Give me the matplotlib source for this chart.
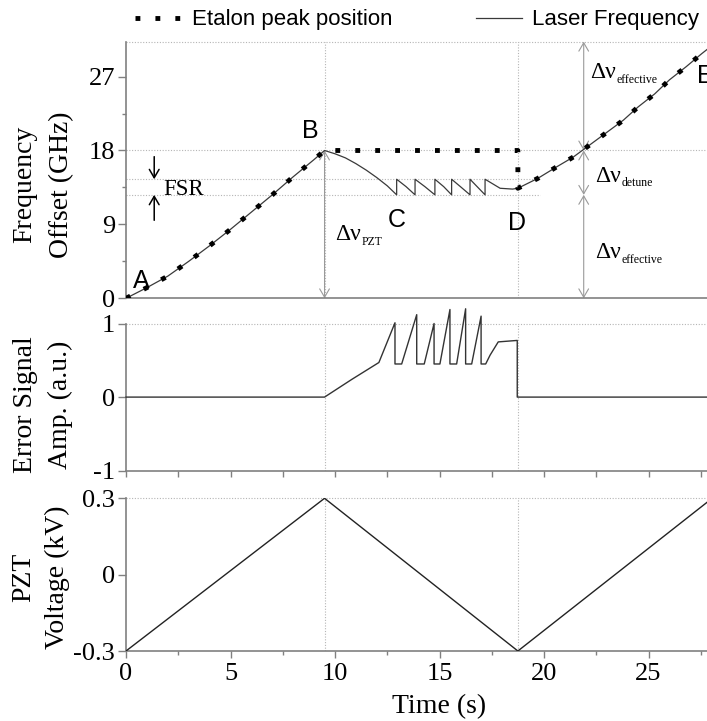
import matplotlib
matplotlib.use('Agg')
import matplotlib.pyplot as plt
import numpy as np

plt.rcParams['font.family'] = ['Liberation Serif', 'DejaVu Serif']
plt.rcParams['axes.unicode_minus'] = False

W, H, DPI = 707, 721, 100

# ---------------- data ----------------
# laser / etalon rising section A -> B
rise1_t = [0, 1, 2, 3, 4, 5, 6, 7, 8, 9, 9.5]
rise1_f = [0, 1.3, 2.7, 4.5, 6.4, 8.4, 10.5, 12.6, 14.8, 16.9, 18.0]
# laser frequency between B and D (descent, sawtooth, plateau)
mid_t = [9.5, 10.0, 10.5, 11.0, 11.5, 12.0, 12.5, 12.95,
         12.95, 13.4, 13.83, 13.83, 14.3, 14.78, 14.78, 15.2, 15.58,
         15.58, 16.0, 16.46, 16.46, 16.8, 17.18, 17.18, 17.9, 18.5, 18.75]
mid_f = [18.0, 17.6, 17.1, 16.4, 15.6, 14.7, 13.7, 12.6,
         14.5, 13.6, 12.6, 14.5, 13.6, 12.6, 14.5, 13.6, 12.6,
         14.5, 13.6, 12.6, 14.5, 13.6, 12.6, 14.5, 13.4, 13.3, 13.4]
# rising section after D -> E
rise2_t = [18.75, 19.7, 20.6, 21.4, 22.2, 23.0, 23.8, 24.5, 25.3, 26.0, 26.8, 27.55, 28.2]
rise2_f = [13.4, 14.6, 16.0, 17.2, 18.7, 20.2, 21.7, 23.3, 24.9, 26.6, 28.2, 29.8, 31.1]
# etalon plateau level
etalon_level = 18.0
fsr_levels = [14.5, 12.6]

# error signal
err_t = [0, 9.5, 10.8, 12.1, 12.87, 12.87, 13.19, 13.91, 13.91, 14.27, 14.74, 14.74,
         15.02, 15.5, 15.5, 15.82, 16.25, 16.25, 16.54, 16.99, 16.99, 17.21, 17.42,
         17.81, 18.72, 18.72, 28.2]
err_v = [0, 0, 0.24, 0.47, 1.01, 0.45, 0.45, 1.12, 0.45, 0.45, 1.0, 0.45,
         0.45, 1.19, 0.45, 0.45, 1.2, 0.45, 0.45, 1.1, 0.45, 0.45, 0.57,
         0.75, 0.77, 0, 0]

# PZT voltage
pzt_t = [0, 9.5, 18.75, 28.2]
pzt_v = [-0.3, 0.3, -0.3, 0.31]

t_peak, t_valley = 9.5, 18.75
t_arrow = 21.9

# ---------------- figure ----------------
fig = plt.figure(figsize=(W / DPI, H / DPI), dpi=DPI)

def px_axes(top, bottom):
    left = 126 / W
    width = 30 * 20.9 / W
    return [left, 1 - bottom / H, width, (bottom - top) / H]

ax1 = fig.add_axes(px_axes(41.7, 298.3))
ax2 = fig.add_axes(px_axes(323.5, 470.7))
ax3 = fig.add_axes(px_axes(498.3, 651.0))

SPINE = '#808080'
GRID = dict(color='#b5b5b5', lw=0.8, ls=(0, (1, 1.5)), zorder=0.5)

for ax in (ax1, ax2, ax3):
    ax.set_xlim(0, 30)
    for s in ('top', 'right'):
        ax.spines[s].set_visible(False)
    for s in ('left', 'bottom'):
        ax.spines[s].set_color(SPINE)
        ax.spines[s].set_linewidth(1.2)
    ax.tick_params(which='both', color=SPINE, labelsize=19, width=1.0)
    ax.tick_params(axis='y', which='major', length=6, pad=2)
    ax.tick_params(axis='y', which='minor', length=3)
    ax.axvline(t_peak, **GRID)
    ax.axvline(t_valley, **GRID)

# ---- top panel ----
ytop = 31.25
ax1.set_ylim(0, ytop)
ax1.set_yticks([0, 9, 18, 27])
ax1.set_yticks([4.5, 13.5, 22.5], minor=True)
ax1.tick_params(axis='x', which='both', bottom=False, labelbottom=False)
ax1.axhline(ytop, clip_on=False, **GRID)
ax1.axhline(etalon_level, **GRID)
ax1.hlines(fsr_levels, 0, 19.8, **GRID)

laser_t = rise1_t + mid_t[1:] + rise2_t[1:]
laser_f = rise1_f + mid_f[1:] + rise2_f[1:]
et_t = rise1_t + [t_valley] + rise2_t
et_f = rise1_f + [etalon_level] + rise2_f

laser_line, = ax1.plot(laser_t, laser_f, color='#3a3a3a', lw=0.9, zorder=3,
                       label='Laser Frequency')
et_line, = ax1.plot(et_t, et_f, color='black', lw=3.5, ls=(0, (1, 3.1)),
                    dash_capstyle='butt', zorder=4, label='Etalon peak position')

ARR_G = dict(arrowstyle='<->,head_length=0.6,head_width=0.35', color='#9a9a9a',
             lw=0.8, shrinkA=0, shrinkB=0, mutation_scale=10)
ax1.annotate('', xy=(t_peak, 0), xytext=(t_peak, etalon_level), arrowprops=ARR_G, zorder=2)
ax1.annotate('', xy=(t_arrow, ytop), xytext=(t_arrow, etalon_level), arrowprops=ARR_G,
             zorder=2, annotation_clip=False)
ax1.annotate('', xy=(t_arrow, etalon_level), xytext=(t_arrow, fsr_levels[1]), arrowprops=ARR_G, zorder=2)
ax1.annotate('', xy=(t_arrow, fsr_levels[1]), xytext=(t_arrow, 0), arrowprops=ARR_G, zorder=2)

ARR_K = dict(arrowstyle='->,head_length=0.6,head_width=0.35', color='black',
             lw=1.1, shrinkA=0, shrinkB=0, mutation_scale=10)
ax1.annotate('', xy=(1.35, fsr_levels[0]), xytext=(1.35, 17.25), arrowprops=ARR_K)
ax1.annotate('', xy=(1.35, fsr_levels[1]), xytext=(1.35, 9.5), arrowprops=ARR_K)
ax1.text(1.77, fsr_levels[1], 'FSR', fontsize=16.5, va='baseline', ha='left')

def dnu(ax, x, y, sub):
    t = ax.text(x, y, 'Δν', fontsize=17, ha='left', va='baseline')
    ax.annotate(sub, xy=(1, 0), xycoords=t, xytext=(0.5, 0.3),
                textcoords='offset points', fontsize=8.5, ha='left', va='baseline')

dnu(ax1, 10.0, 7.1, 'PZT')
dnu(ax1, 22.2, 26.8, 'effective')
dnu(ax1, 22.44, 14.2, 'detune')
dnu(ax1, 22.44, 4.87, 'effective')

SANS = dict(family='Liberation Sans', fontsize=18, va='baseline', ha='left')
ax1.text(0.33, 1.2, 'A', **SANS)
ax1.text(8.4, 19.5, 'B', **SANS)
ax1.text(12.53, 8.7, 'C', **SANS)
ax1.text(18.3, 8.3, 'D', **SANS)
ax1.text(27.3, 26.2, 'E', **SANS)

# ---- middle panel ----
ax2.set_ylim(-1, 1)
ax2.set_yticks([-1, 0, 1])
ax2.set_yticklabels(['-1', '0', '1'])
ax2.set_xticks(np.arange(0, 28, 2.5))
ax2.tick_params(axis='x', which='major', length=4, labelbottom=False)
ax2.axhline(1, clip_on=False, **GRID)
ax2.plot(err_t, err_v, color='#333333', lw=1.0, clip_on=False, zorder=3)

# ---- bottom panel ----
ax3.set_ylim(-0.3, 0.3)
ax3.set_yticks([-0.3, 0, 0.3])
ax3.set_yticklabels(['-0.3', '0', '0.3'])
ax3.set_xticks(np.arange(0, 26, 5))
ax3.set_xticks(np.arange(2.5, 28, 5), minor=True)
ax3.tick_params(axis='x', which='major', length=5, pad=4)
ax3.tick_params(axis='x', which='minor', length=3)
ax3.axhline(0.3, clip_on=False, **GRID)
ax3.plot(pzt_t, pzt_v, color='#222222', lw=1.0, zorder=3)
ax3.set_xlabel('Time (s)', fontsize=20, labelpad=6)

# ---- y labels ----
def ylab(x, y, s):
    fig.text(x / W, 1 - y / H, s, rotation=90, ha='center', va='center', fontsize=20)

ylab(25, 184.5, 'Frequency')
ylab(62, 184.5, 'Offset (GHz)')
ylab(25, 405, 'Error Signal')
ylab(60, 405, 'Amp. (a.u.)')
ylab(24, 577, 'PZT')
ylab(57, 577, 'Voltage (kV)')

# ---- legend ----
fig.legend(handles=[et_line, laser_line], ncol=2, loc='center left',
           bbox_to_anchor=(135 / W, 1 - 20 / H), frameon=False,
           prop=dict(family='Liberation Sans', size=16), handlelength=2.1,
           handletextpad=0.45, columnspacing=3.75, borderpad=0, borderaxespad=0)

fig.savefig('out.png', dpi=DPI)
